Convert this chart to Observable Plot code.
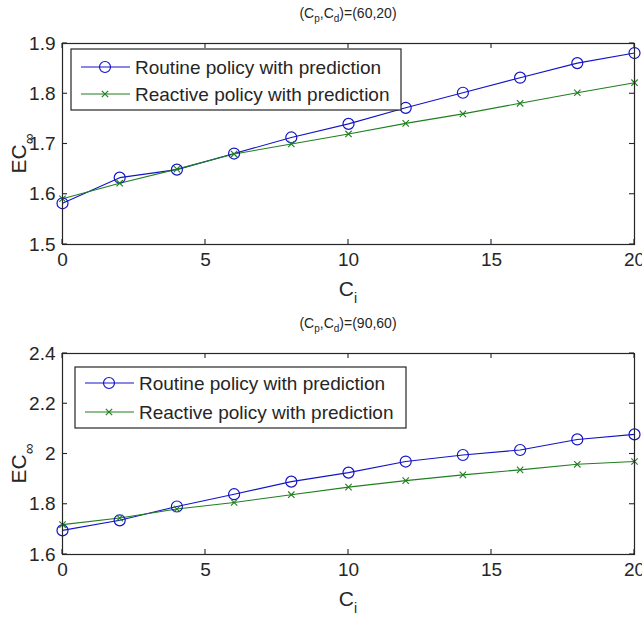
<!DOCTYPE html>
<html>
<head>
<meta charset="utf-8">
<script src="https://cdn.jsdelivr.net/npm/d3@7"></script>
<script src="https://cdn.jsdelivr.net/npm/@observablehq/plot@0.6"></script>
<style>
  html, body { margin: 0; padding: 0; background: #fff; }
  #chart { width: 642px; }
  #chart svg { display: block; }
</style>
</head>
<body>
<div id="chart"></div>
<script>
// ---- data ----
const ci = [0, 2, 4, 6, 8, 10, 12, 14, 16, 18, 20];
const routineTop   = [1.582, 1.633, 1.649, 1.681, 1.713, 1.740, 1.772, 1.802, 1.832, 1.861, 1.881];
const reactiveTop  = [1.591, 1.622, 1.650, 1.680, 1.700, 1.720, 1.741, 1.760, 1.781, 1.802, 1.822];
const routineBottom  = [1.696, 1.736, 1.791, 1.840, 1.890, 1.926, 1.970, 1.996, 2.016, 2.058, 2.078];
const reactiveBottom = [1.719, 1.745, 1.781, 1.807, 1.838, 1.868, 1.894, 1.917, 1.937, 1.959, 1.970];
const xTicks = [0, 5, 10, 15, 20];
const yTicksTop = [1.5, 1.6, 1.7, 1.8, 1.9];
const yTicksBottom = [1.6, 1.8, 2, 2.2, 2.4];
const seriesNames = ["Routine policy with prediction", "Reactive policy with prediction"];
const titlesTop = ["60", "20"];
const titlesBottom = ["90", "60"];

const BLUE = "#1414c8";
const GREEN = "#1f7f1f";
const INK = "#262626";
const FONT = "'Liberation Sans', Arial, Helvetica, sans-serif";

function panel({routine, reactive, yDomain, yTicks, titleVals, height, legend}) {
  const mk = (vals, name) => ci.map((x, i) => ({x, y: vals[i], name}));
  const dRoutine = mk(routine, seriesNames[0]);
  const dReactive = mk(reactive, seriesNames[1]);
  const plot = Plot.plot({
    width: 642,
    height,
    marginTop: 43,
    marginBottom: height - 244,
    marginLeft: 62,
    marginRight: 8,
    style: {fontFamily: FONT, background: "#fff", color: INK},
    x: {domain: [0, 20], label: null},
    y: {domain: yDomain, label: null},
    marks: [
      Plot.axisX({ticks: xTicks, tickSize: 0, tickPadding: 8, fontSize: 19, fill: INK}),
      Plot.axisY({ticks: yTicks, tickSize: 0, tickPadding: 7, fontSize: 19, fill: INK, tickFormat: d => String(d)}),
      Plot.line(dRoutine, {x: "x", y: "y", stroke: BLUE, strokeWidth: 1.1}),
      Plot.line(dReactive, {x: "x", y: "y", stroke: GREEN, strokeWidth: 1.1}),
      Plot.dot(dRoutine, {x: "x", y: "y", r: 5.5, stroke: BLUE, fill: "none", strokeWidth: 1.2}),
      Plot.dot(dReactive, {x: "x", y: "y", r: 3, symbol: "times", stroke: GREEN, strokeWidth: 1.1}),
      Plot.frame({stroke: INK, strokeWidth: 1.2})
    ]
  });

  const svg = d3.select(plot);
  const sx = plot.scale("x").apply;
  const sy = plot.scale("y").apply;
  const left = 62, right = 634, top = 43, bottom = 244, tl = 5;
  const g = svg.append("g").attr("stroke", INK).attr("stroke-width", 1.1);
  for (const t of xTicks) {
    const x = sx(t);
    g.append("line").attr("x1", x).attr("x2", x).attr("y1", bottom).attr("y2", bottom - tl);
    g.append("line").attr("x1", x).attr("x2", x).attr("y1", top).attr("y2", top + tl);
  }
  for (const t of yTicks) {
    const y = sy(t);
    g.append("line").attr("x1", left).attr("x2", left + tl).attr("y1", y).attr("y2", y);
    g.append("line").attr("x1", right).attr("x2", right - tl).attr("y1", y).attr("y2", y);
  }

  // title (C_p,C_d)=(a,b)
  const cx = (left + right) / 2;
  const title = svg.append("text").attr("x", cx).attr("y", 18).attr("text-anchor", "middle")
    .attr("font-family", FONT).attr("font-size", 14).attr("fill", INK);
  title.append("tspan").text("(C");
  title.append("tspan").attr("font-size", 10).attr("dy", 4).text("p");
  title.append("tspan").attr("dy", -4).text(",C");
  title.append("tspan").attr("font-size", 10).attr("dy", 4).text("d");
  title.append("tspan").attr("dy", -4).text(`)=(${titleVals[0]},${titleVals[1]})`);

  // x label C_i
  const xl = svg.append("text").attr("x", cx).attr("y", 296).attr("text-anchor", "middle")
    .attr("font-family", FONT).attr("font-size", 21).attr("fill", INK);
  xl.append("tspan").text("C");
  xl.append("tspan").attr("font-size", 14).attr("dy", 7).text("i");

  // y label EC^inf
  const yl = svg.append("text").attr("transform", `translate(26,${(top + bottom) / 2 + 10}) rotate(-90)`)
    .attr("text-anchor", "middle").attr("font-family", FONT).attr("font-size", 21).attr("fill", INK);
  yl.append("tspan").text("EC");
  yl.append("tspan").attr("font-size", 15).attr("dy", 8).text("∞");

  // legend
  const L = legend;
  const lg = svg.append("g").attr("text-anchor", "start");
  lg.append("rect").attr("x", L.x0).attr("y", L.y0).attr("width", L.x1 - L.x0).attr("height", L.y1 - L.y0)
    .attr("fill", "#fff").attr("stroke", INK).attr("stroke-width", 1.2);
  const rows = [
    {name: seriesNames[0], color: BLUE, symbol: "circle", r: 5.5, y: L.rows[0]},
    {name: seriesNames[1], color: GREEN, symbol: "times", r: 3, y: L.rows[1]}
  ];
  for (const row of rows) {
    lg.append("line").attr("x1", L.x0 + 10).attr("x2", L.x0 + 59).attr("y1", row.y).attr("y2", row.y)
      .attr("stroke", row.color).attr("stroke-width", 1.1);
    const sym = d3.symbol(row.symbol === "circle" ? d3.symbolCircle : d3.symbolTimes, Math.PI * row.r * row.r)();
    lg.append("path").attr("d", sym).attr("transform", `translate(${L.x0 + 34},${row.y})`)
      .attr("fill", "none").attr("stroke", row.color).attr("stroke-width", 1.2);
    lg.append("text").attr("x", L.x0 + 64).attr("y", row.y).attr("dy", "0.35em").attr("text-anchor", "start")
      .attr("font-family", FONT).attr("font-size", 19).attr("fill", INK).text(row.name);
  }
  return plot;
}

const chart = document.getElementById("chart");
chart.append(panel({
  routine: routineTop, reactive: reactiveTop, yDomain: [1.5, 1.9], yTicks: yTicksTop,
  titleVals: titlesTop, height: 310,
  legend: {x0: 71, x1: 401, y0: 49, y1: 110, rows: [67, 94]}
}));
chart.append(panel({
  routine: routineBottom, reactive: reactiveBottom, yDomain: [1.6, 2.4], yTicks: yTicksBottom,
  titleVals: titlesBottom, height: 311,
  legend: {x0: 75, x1: 406, y0: 57, y1: 118, rows: [73, 102]}
}));
</script>
</body>
</html>
